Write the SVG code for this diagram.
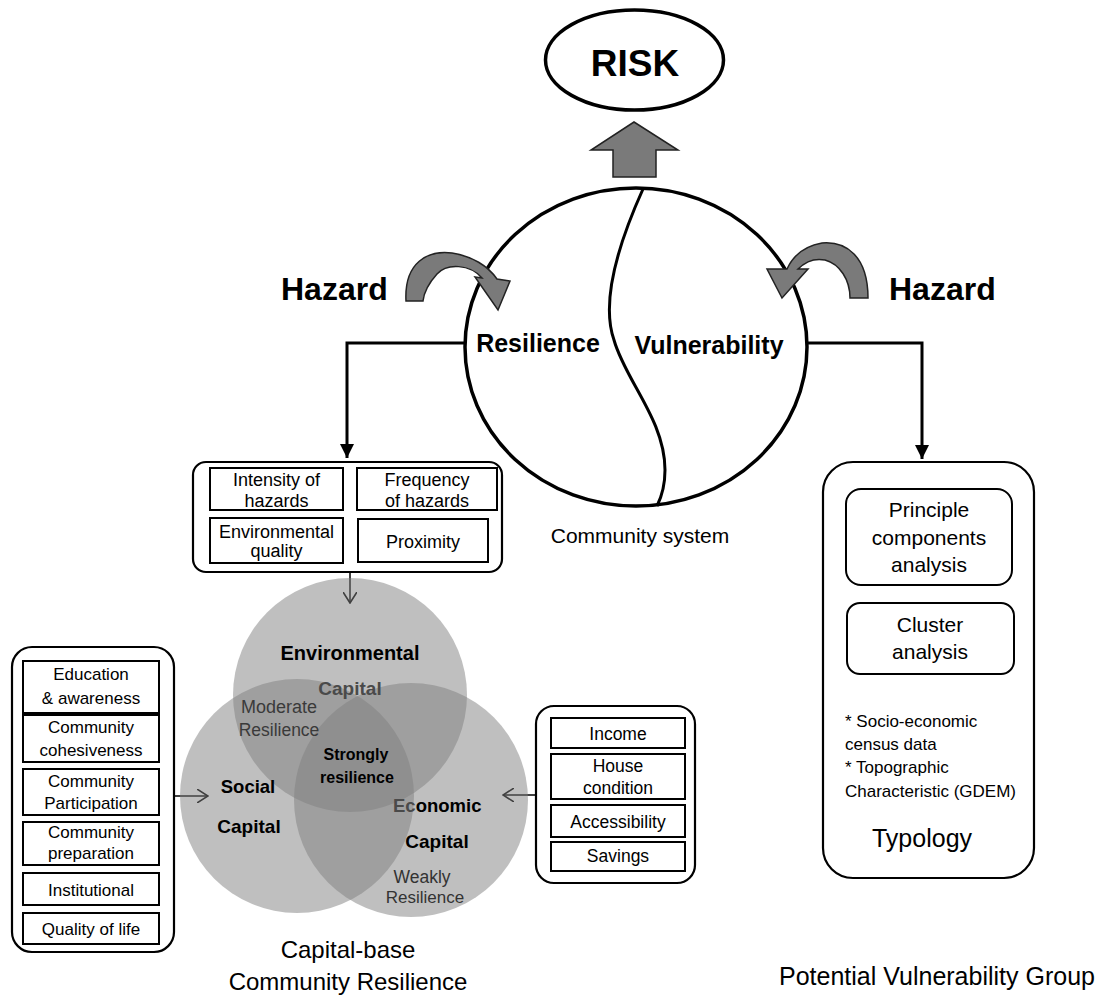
<svg xmlns="http://www.w3.org/2000/svg" width="1106" height="998" viewBox="0 0 1106 998">
<style>
text{font-family:"Liberation Sans",Arial,sans-serif;fill:#000}
.c{text-anchor:middle}
.b{font-weight:bold}
.box{fill:#fff;stroke:#000;stroke-width:2}
.obox{fill:#fff;stroke:#000;stroke-width:2.2}
.conn{fill:none;stroke:#000;stroke-width:3}
.thin{fill:none;stroke:#000;stroke-width:1.5}
.garrow{fill:#7a7a7a;stroke:#222;stroke-width:1.5;stroke-linejoin:miter}
.venn{fill:#808080;fill-opacity:0.5;stroke:none}
.f17{font-size:17px}
.f18{font-size:18px}
.f21{font-size:21px}
</style>
<defs>
<marker id="fill" viewBox="0 0 10 10" refX="10" refY="5" markerWidth="14" markerHeight="14" markerUnits="userSpaceOnUse" orient="auto">
<path d="M0,0 L10,5 L0,10 Z" fill="#000"/>
</marker>
<marker id="open" viewBox="0 0 10 12" refX="9.5" refY="6" markerWidth="12" markerHeight="14" markerUnits="userSpaceOnUse" orient="auto">
<path d="M0,0 L9.5,6 L0,12" fill="none" stroke="#000" stroke-width="1.4"/>
</marker>
</defs>

<g id="risk">
<ellipse cx="634.5" cy="60" rx="89" ry="50" fill="#fff" stroke="#000" stroke-width="3.5"/>
<text x="635" y="76" class="c b" font-size="37">RISK</text>
</g>

<g id="risk-arrow">
<polygon class="garrow" points="634,122 678,150 656,150 656,177 613,177 613,150 591,150"/>
</g>

<g id="community-system">
<ellipse cx="636" cy="347" rx="171" ry="159" fill="#fff" stroke="#000" stroke-width="3.5"/>
<path d="M643,189 C620,240 600,300 614,340 C625,380 665,420 665,470 C665,490 660,500 657,506" fill="none" stroke="#000" stroke-width="3"/>
<text x="538" y="352" class="c b" font-size="25">Resilience</text>
<text x="709" y="354" class="c b" font-size="25">Vulnerability</text>
<text x="640" y="543" class="c" font-size="21">Community system</text>
</g>

<g id="hazard-left">
<text x="281" y="300" class="b" font-size="32">Hazard</text>
<path class="garrow" d="M406,301 C404,262 428,250 452,253 C472,256 488,266 497,279 L510,281 L498,310 L475,277 L482,278 C470,264 447,263 437,274 C428,284 424,292 423,301 Z"/>
</g>

<g id="hazard-right">
<text x="889" y="300" class="b" font-size="32">Hazard</text>
<path class="garrow" d="M868,298 C868,256 846,241 822,243 C805,246 793,256 787,269 L767,269 L782,298 L808,269 L798,269 C805,262 815,258 825,260 C840,264 850,280 850,298 Z"/>
</g>

<g id="connectors">
<path class="conn" d="M465,343 L347,343 L347,458" marker-end="url(#fill)"/>
<path class="conn" d="M807,343 L922,343 L922,459" marker-end="url(#fill)"/>
<path class="thin" d="M350,572 L350,603" marker-end="url(#open)"/>
<path class="thin" d="M174,796 L208,796" marker-end="url(#open)"/>
<path class="thin" d="M536,795 L503,795" marker-end="url(#open)"/>
</g>

<g id="hazard-factors">
<rect class="obox" x="193" y="462" width="309" height="110" rx="13"/>
<rect class="box" x="210" y="468" width="133" height="42"/>
<rect class="box" x="357" y="468" width="140" height="42"/>
<rect class="box" x="210" y="518" width="133" height="45"/>
<rect class="box" x="358" y="519" width="130" height="43"/>
<text class="c f18" x="276.5" y="486">Intensity of</text>
<text class="c f18" x="276.5" y="507">hazards</text>
<text class="c f18" x="427" y="486">Frequency</text>
<text class="c f18" x="427" y="507">of hazards</text>
<text class="c f18" x="276.5" y="538">Environmental</text>
<text class="c f18" x="276.5" y="557">quality</text>
<text class="c f18" x="423" y="548">Proximity</text>
</g>

<g id="capital-venn">
<circle class="venn" cx="350" cy="695" r="117"/>
<circle class="venn" cx="297" cy="796" r="117"/>
<circle class="venn" cx="411" cy="800" r="117"/>
<text class="c b" x="350" y="660" font-size="20">Environmental</text>
<text class="c b" x="350" y="695" font-size="19" fill="#4a4a4a" style="fill:#4a4a4a">Capital</text>
<text class="c" x="279" y="713" font-size="18" style="fill:#3a3a3a">Moderate</text>
<text class="c" x="279" y="736" font-size="17.5" style="fill:#3a3a3a">Resilience</text>
<text class="c b" x="356" y="760" font-size="16">Strongly</text>
<text class="c b" x="357" y="783" font-size="16">resilience</text>
<text class="c b" x="248" y="793" font-size="18.5">Social</text>
<text class="c b" x="249" y="833" font-size="19">Capital</text>
<text class="b" x="393" y="812" font-size="18.5"><tspan style="fill:#4a4a4a">Ec</tspan>onomic</text>
<text class="c b" x="437" y="848" font-size="19">Capital</text>
<text class="c" x="422" y="883" font-size="17.5" style="fill:#333">Weakly</text>
<text class="c" x="425" y="903" font-size="17" style="fill:#333">Resilience</text>
<text class="c" x="348" y="958" font-size="24">Capital-base</text>
<text class="c" x="348" y="990" font-size="24">Community Resilience</text>
</g>

<g id="social-factors">
<rect class="obox" x="12" y="647" width="162" height="305" rx="20"/>
<rect class="box" x="23" y="661" width="136" height="52"/>
<rect class="box" x="23" y="715" width="136" height="47"/>
<rect class="box" x="23" y="769" width="136" height="46"/>
<rect class="box" x="23" y="822" width="136" height="43"/>
<rect class="box" x="23" y="873" width="136" height="32"/>
<rect class="box" x="23" y="913" width="136" height="31"/>
<text class="c f17" x="91" y="680">Education</text>
<text class="c f17" x="91" y="704">&amp; awareness</text>
<text class="c f17" x="91" y="733">Community</text>
<text class="c f17" x="91" y="756">cohesiveness</text>
<text class="c f17" x="91" y="787">Community</text>
<text class="c f17" x="91" y="809">Participation</text>
<text class="c f17" x="91" y="838">Community</text>
<text class="c f17" x="91" y="859">preparation</text>
<text class="c f17" x="91" y="896">Institutional</text>
<text class="c f17" x="91" y="935">Quality of life</text>
</g>

<g id="economic-factors">
<rect class="obox" x="536" y="706" width="159" height="177" rx="18"/>
<rect class="box" x="551" y="718" width="134" height="30"/>
<rect class="box" x="551" y="754" width="134" height="45"/>
<rect class="box" x="551" y="805" width="134" height="32"/>
<rect class="box" x="551" y="842" width="134" height="29"/>
<text class="c" font-size="17.5" x="618" y="740">Income</text>
<text class="c" font-size="17.5" x="618" y="772">House</text>
<text class="c" font-size="17.5" x="618" y="794">condition</text>
<text class="c" font-size="17.5" x="618" y="828">Accessibility</text>
<text class="c" font-size="17.5" x="618" y="862">Savings</text>
</g>

<g id="typology">
<rect class="obox" x="823" y="462" width="211" height="416" rx="30"/>
<rect class="box" x="846" y="489" width="166" height="96" rx="15"/>
<rect class="box" x="847" y="603" width="167" height="71" rx="13"/>
<text class="c f21" x="929" y="517">Principle</text>
<text class="c f21" x="929" y="545">components</text>
<text class="c f21" x="929" y="572">analysis</text>
<text class="c f21" x="930" y="632">Cluster</text>
<text class="c f21" x="930" y="659">analysis</text>
<text class="f17" x="845" y="727">* Socio-economic</text>
<text class="f17" x="845" y="750">census data</text>
<text class="f17" x="845" y="773">* Topographic</text>
<text class="f17" x="845" y="797">Characteristic (GDEM)</text>
<text class="c" font-size="25" x="922" y="847">Typology</text>
<text class="c" font-size="25" x="937" y="985">Potential Vulnerability Group</text>
</g>
</svg>
